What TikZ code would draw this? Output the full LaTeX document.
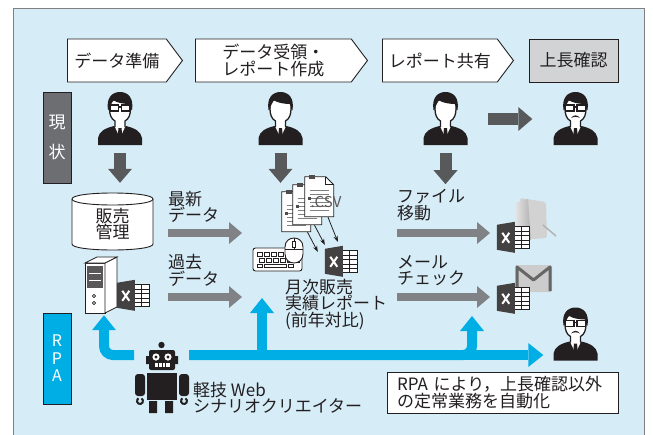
\documentclass[tikz,border=0pt]{standalone}
\usepackage{fontspec}
\setmainfont{Noto Sans CJK JP}
\usetikzlibrary{arrows.meta,shapes.symbols}

\definecolor{ink}{RGB}{35,31,32}
\definecolor{panel}{RGB}{214,237,248}
\definecolor{darrow}{RGB}{88,89,91}
\definecolor{larrow}{RGB}{128,130,133}
\definecolor{rpa}{RGB}{0,174,230}
\definecolor{stamp}{RGB}{210,211,213}
\definecolor{now}{RGB}{109,110,113}

\tikzset{
  stepsig/.style={signal, signal to=east, signal pointer angle=106, draw=ink, fill=white, line width=0.9pt, minimum height=43pt, inner sep=2pt, align=center, anchor=west},
  tagbox/.style={draw=ink, line width=0.9pt, text=white, minimum width=28pt, minimum height=91pt, inner sep=0pt, align=center},
  who/.style={minimum width=44pt, minimum height=53pt, inner sep=0pt},
  iconbox/.style={minimum width=33pt, minimum height=31pt, inner sep=0pt},
  pagebox/.style={minimum width=29pt, minimum height=40pt, inner sep=0pt},
  lbl/.style={anchor=west, align=left, inner sep=0pt},
  darr/.style={draw=darrow, line width=12pt, -{Triangle[width=24pt,length=14pt,line width=0pt]}},
  larr/.style={draw=larrow, line width=8pt, -{Triangle[width=22pt,length=13pt,line width=0pt]}},
  carr/.style={draw=rpa, line width=10pt, -{Triangle[width=24pt,length=15pt,line width=0pt]}},
  tarr/.style={draw=ink, line width=0.8pt, -{Stealth[length=6pt,width=4.5pt]}},
  man/.pic={
    \fill[ink] (-22,26) -- (-22,19) .. controls (-21,12) and (-14,9) .. (-6,7) -- (6,7) .. controls (14,9) and (21,12) .. (22,19) -- (22,26) -- cycle;
    \fill[white] (-5.5,7) -- (0,19) -- (5.5,7) -- cycle;
    \fill[ink] (-1.5,9) -- (1.5,9) -- (2.2,16) -- (0,20) -- (-2.2,16) -- cycle;
    \draw[ink, line width=1.3pt, fill=white] (-5,8) -- (-5,2) .. controls (-9,0) and (-10.5,-5) .. (-10.5,-10) -- (-10.5,-13) .. controls (-10.5,-23) and (10.5,-23) .. (10.5,-13) -- (10.5,-10) .. controls (10.5,-5) and (9,0) .. (5,2) -- (5,8);
    \fill[ink] (-12,-9) .. controls (-14,-21) and (-8,-27) .. (0,-27) .. controls (8,-27) and (14,-21) .. (12,-9) -- (10.3,-10) -- (10.3,-15) .. controls (4,-15) and (-3,-16) .. (-7,-19) .. controls (-8,-15) and (-10.3,-14) .. (-10.3,-10) -- cycle;
  },
  glasses/.pic={
    \draw[ink, line width=1.3pt, fill=white] (-10,-14) rectangle (-1.5,-8) (1.5,-14) rectangle (10,-8);
    \draw[ink, line width=1.3pt] (-1.5,-12) -- (1.5,-12);
  },
  mustache/.pic={
    \fill[ink] (-4.5,-1) .. controls (-2,-4.5) and (2,-4.5) .. (4.5,-1) .. controls (2,-2.5) and (-2,-2.5) .. (-4.5,-1) -- cycle;
  },
  page/.pic={
    \draw[ink, line width=0.8pt, fill=white] (0,0) -- (21,0) -- (29,8) -- (29,40) -- (0,40) -- cycle;
    \draw[ink, line width=0.8pt] (21,0) -- (21,8) -- (29,8);
    \foreach \k in {13,17,...,33} \draw[gray, line width=0.6pt] (5,\k) -- (24,\k);
    \fill[ink!80] (4,-2) rectangle (10,2);
    \fill[ink!80] (3,20) rectangle (6,23);
  },
  xls/.pic={
    \draw[ink, line width=0.8pt, fill=white] (16,5) rectangle (33,27);
    \draw[ink, line width=0.6pt] (24.5,5) -- (24.5,27) foreach \r in {9.4,13.8,18.2,22.6} {(16,\r) -- (33,\r)};
    \fill[ink!85] (0,3) -- (18,0) -- (18,31) -- (0,28) -- cycle;
    \draw[white, line width=2pt] (5.5,11) -- (12.5,21) (12.5,11) -- (5.5,21);
  },
  robot/.pic={
    \fill[ink] (0,-33) circle (3.2);
    \fill[ink, rounded corners=2pt] (-12.5,-28) rectangle (13.5,-8);
    \fill[ink] (-15.5,-22) rectangle (-12.5,-14) (13.5,-22) rectangle (16.5,-14);
    \fill[white] (-5.5,-21) circle (3.6) (6.5,-21) circle (3.6);
    \fill[ink] (-5.5,-21) circle (1.6) (6.5,-21) circle (1.6);
    \fill[white] (-7,-15) rectangle (8,-11);
    \draw[ink, line width=1pt] (-3.25,-15) -- (-3.25,-11) (0.5,-15) -- (0.5,-11) (4.25,-15) -- (4.25,-11);
    \fill[ink] (-14.5,-5) rectangle (15.5,22);
    \fill[ink, rounded corners=3pt] (-26.5,-4) rectangle (-16.5,18) (17.5,-4) rectangle (27.5,18);
    \draw[ink, line width=2pt] (-21.5,23) ++(-60:3) arc[start angle=-60, end angle=240, radius=3];
    \draw[ink, line width=2pt] (22.5,23) ++(-60:3) arc[start angle=-60, end angle=240, radius=3];
    \fill[ink] (-12.5,23) rectangle (-4.5,35) (3.5,23) rectangle (11.5,35);
  }
}

\begin{document}
\begin{tikzpicture}[x=1pt, y=-1pt, font=\fontsize{17}{16.5}\selectfont, text=ink]
  \useasboundingbox (0,0) rectangle (653,434);
  \fill[white] (0,0) rectangle (653,434);
  \draw[gray, line width=1pt, fill=panel] (13,8) rectangle (644,445);

  \node[stepsig, minimum width=115pt] (s1) at (67,60.5) {データ準備};
  \node[stepsig, minimum width=172pt] (s2) at (195,60.5) {データ受領・\\レポート作成};
  \node[stepsig, minimum width=131pt] (s3) at (382,60.5) {レポート共有};
  \node[draw=ink, line width=0.9pt, fill=stamp, minimum width=89pt, minimum height=43pt] (s4) at (573.5,60.5) {上長確認};

  \node[tagbox, fill=now] (cur) at (57,137.5) {現\\[13pt]状};
  \node[tagbox, fill=rpa, font=\fontsize{16}{17.5}\selectfont] (rpa) at (57,358.5) {R\\P\\A};

  \node[who] (p1) at (120,119) {};
  \node[who] (p2) at (280.5,119) {};
  \node[who] (p3) at (445.5,119) {};
  \node[who] (p4) at (575.5,119) {};
  \node[who] (p5) at (575.5,334.5) {};
  \pic at (p1) {man};
  \pic at (p1) {glasses};
  \pic at (p2) {man};
  \pic at (p3) {man};
  \pic at (p4) {man};
  \pic at (p4) {glasses};
  \pic at (p4) {mustache};
  \pic at (p5) {man};
  \pic at (p5) {glasses};
  \pic at (p5) {mustache};

  % sales database and server
  \draw[ink, line width=0.9pt, fill=white] (72,199) -- (72,244) .. controls (72,252) and (153,252) .. (153,244) -- (153,199) .. controls (153,191) and (72,191) .. cycle;
  \draw[ink, line width=0.9pt] (72,199) .. controls (72,207) and (153,207) .. (153,199);
  \node[minimum width=81pt, minimum height=52pt, inner sep=0pt, align=center] (db) at (112.5,224) {販売\\管理};

  \draw[ink, line width=0.8pt, fill=white] (85,263) rectangle (105,313);
  \draw[ink, line width=0.8pt, fill=white] (105,263) -- (117,257) -- (117,307) -- (105,313) -- cycle;
  \draw[ink, line width=0.8pt, fill=white] (85,263) -- (97,257) -- (117,257) -- (105,263) -- cycle;
  \fill[ink!75] (87,266) rectangle (103,288);
  \draw[white, line width=0.8pt] (89,273) -- (101,273) (89,280) -- (101,280);
  \draw[ink, line width=0.7pt] (94,296) circle (1.6) (94,303) circle (1.6);
  \node[minimum width=34pt, minimum height=58pt, inner sep=0pt] (srv) at (104,286) {};
  \node[iconbox] (xs) at (133.5,295.5) {};
  \pic at (xs.north west) {xls};

  % csv pages, keyboard and mouse
  \node[pagebox] (doc1) at (296.5,212) {};
  \node[pagebox] (doc2) at (307.5,205) {};
  \node[pagebox] (doc3) at (319.5,197) {};
  \pic at (doc1.north west) {page};
  \pic at (doc2.north west) {page};
  \pic at (doc3.north west) {page};
  \node[text=ink!75, font=\fontsize{15}{15}\selectfont, inner sep=0pt] (csv) at (326,202) {.CSV};

  \draw[ink, line width=0.9pt, fill=white, rounded corners=2.5pt] (253,248) rectangle (302,271);
  \foreach \i in {0,...,5} \draw[ink, line width=0.6pt] (257+\i*7,252) rectangle +(5,4);
  \foreach \i in {0,...,5} \draw[ink, line width=0.6pt] (259+\i*7,258) rectangle +(5,4);
  \draw[ink, line width=0.6pt] (257,264) rectangle +(5,3.5) (264,264) rectangle +(22,3.5) (288,264) rectangle +(5,3.5);
  \draw[ink, line width=0.9pt, fill=white] (285,247) -- (285,254) .. controls (285,266) and (303,266) .. (303,254) -- (303,247) .. controls (303,235) and (285,235) .. cycle;
  \draw[ink, line width=0.7pt] (285,249) -- (303,249) (294,238) -- (294,249);
  \draw[ink, line width=0.7pt, fill=white] (292.5,241) rectangle (295.5,247);

  \node[iconbox] (xr) at (341.5,261.5) {};
  \pic at (xr.north west) {xls};
  \draw[tarr] ([xshift=11pt]doc1.south) -- ([xshift=-7pt,yshift=-6pt]xr.north west);
  \draw[tarr] ([xshift=7pt]doc2.south) -- ([yshift=1pt]xr.north west);
  \draw[tarr] ([xshift=8.5pt]doc3.south) -- ([xshift=13pt,yshift=4pt]xr.north west);

  % folder and mail
  \fill[gray!35, rounded corners=2pt] (520,198) -- (546,202) -- (547,238) -- (520,240) -- cycle;
  \shade[left color=gray!20, right color=gray!60] (515,203) -- (528,199) -- (531,240) -- (517,236) -- cycle;
  \draw[gray!60, line width=1.5pt] (543,225) -- (556,236);
  \node[iconbox] (xm) at (513.5,237.5) {};
  \pic at (xm.north west) {xls};

  \fill[gray!40, rounded corners=1.5pt] (515,265) rectangle (552,292);
  \draw[gray!80!black, line width=3pt, line join=round] (517,291) -- (517,267) -- (533.5,280) -- (550,267) -- (550,291);
  \node[iconbox] (xc) at (513.5,298.5) {};
  \pic at (xc.north west) {xls};

  % labels
  \node[lbl] (new) at (168,207) {最新\\データ};
  \node[lbl] (old) at (168,270.5) {過去\\データ};
  \node[lbl] (mv) at (397,205) {ファイル\\移動};
  \node[lbl] (chk) at (397,270.5) {メール\\チェック};
  \node[lbl, anchor=north west] (rep) at (285,279) {月次販売\\実績レポート\\(前年対比)};

  % current flow
  \draw[darr, shorten >=15pt] ([yshift=-7pt]p1.south) -- (p1.south |- db.north);
  \draw[darr, shorten >=2pt] ([yshift=-7pt]p2.south) -- (p2.south |- doc2.north);
  \draw[darr, shorten >=5pt] ([yshift=-7pt]p3.south) -- (p3.south |- mv.north);
  \draw[darr, shorten <=20pt, shorten >=21pt] (p3.east) -- (p4.west);

  \coordinate (n1) at (168,233);
  \coordinate (n2) at (242,233);
  \coordinate (o1) at (168,297);
  \coordinate (o2) at (242,297);
  \coordinate (m1) at (397,233);
  \coordinate (m2) at (490,233);
  \coordinate (c1) at (397,297);
  \coordinate (c2) at (490,297);
  \draw[larr] (n1) -- (n2);
  \draw[larr] (o1) -- (o2);
  \draw[larr] (m1) -- (m2);
  \draw[larr] (c1) -- (c2);

  % rpa flow
  \node[minimum width=57pt, minimum height=75pt, inner sep=0pt] (bot) at (161.5,378) {};
  \pic at (bot) {robot};
  \coordinate (hl) at (134,355);
  \coordinate (hr) at (189,355);
  \coordinate (up1) at (262,298);
  \coordinate (up2) at (472,316);
  \draw[carr, rounded corners=9pt] (hl) -| (srv.south);
  \draw[carr, rounded corners=9pt] (hr) -| (up2);
  \draw[carr] (hr -| up1) -- (up1);
  \draw[carr, shorten >=10pt] (hr) -- (hr -| p5.west);

  \node[lbl] (botname) at (193,397.5) {軽技 Web\\シナリオクリエイター};
  \node[draw=ink, line width=0.9pt, fill=white, text width=211pt, inner xsep=10pt, inner ysep=3pt, minimum height=41pt, align=left] (msg) at (502.5,392.5) {RPA により，上長確認以外\\の定常業務を自動化};
\end{tikzpicture}
\end{document}
